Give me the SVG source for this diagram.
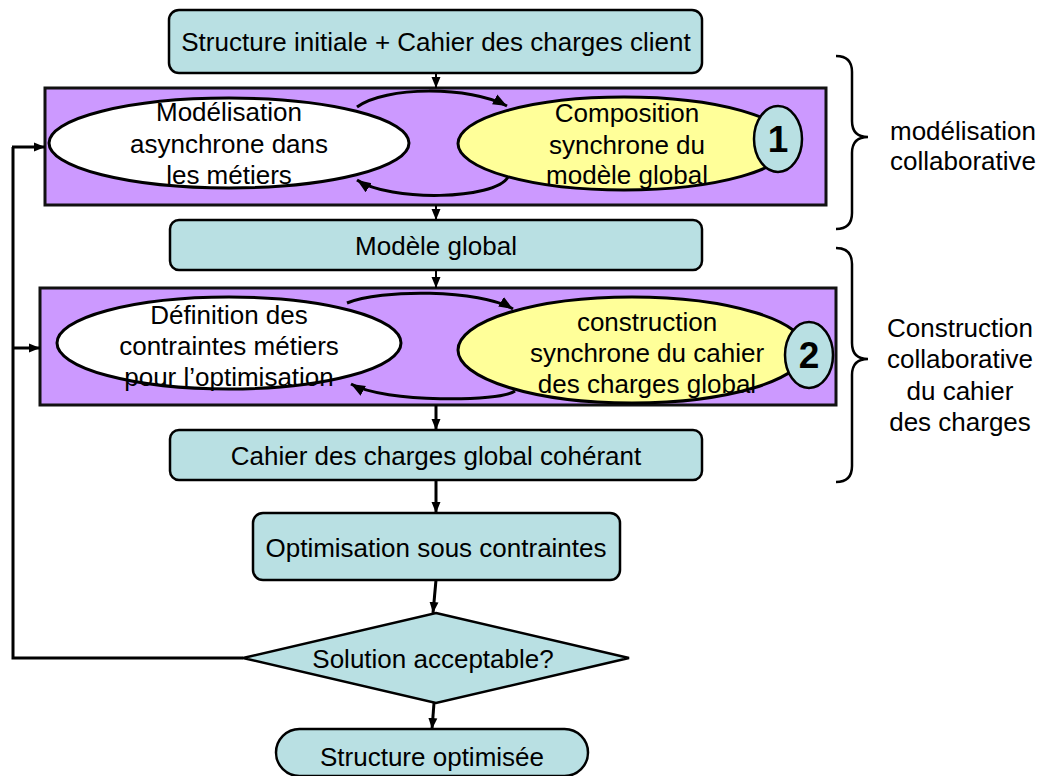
<svg xmlns="http://www.w3.org/2000/svg" width="1044" height="776" viewBox="0 0 1044 776">
<defs>
<marker id="ah" markerUnits="userSpaceOnUse" markerWidth="12" markerHeight="12" viewBox="0 0 12 12" refX="11" refY="6" orient="auto">
<path d="M0,1.5 L11,6 L0,10.5 Z" fill="#000"/>
</marker>
<marker id="ah2" markerUnits="userSpaceOnUse" markerWidth="16" markerHeight="14" viewBox="0 0 16 14" refX="14" refY="7" orient="auto">
<path d="M0,1.5 L14,7 L0,12.5 Z" fill="#000"/>
</marker>
<style>
.t{font-family:"Liberation Sans",Arial,sans-serif;font-size:26px;fill:#000;text-anchor:middle}
.n{font-family:"Liberation Sans",Arial,sans-serif;font-size:37px;font-weight:bold;fill:#000;text-anchor:middle}
.box{fill:#B9E0E3;stroke:#000;stroke-width:2.5}
.grp{fill:#CC99FF;stroke:#111;stroke-width:3}
.wht{fill:#fff;stroke:#000;stroke-width:3}
.yel{fill:#FFFF99;stroke:#000;stroke-width:3}
.c{fill:none;stroke:#000;stroke-width:2;marker-end:url(#ah)}
.ct{fill:none;stroke:#000;stroke-width:3;marker-end:url(#ah)}
.lp{fill:none;stroke:#000;stroke-width:3;marker-end:url(#ah2)}
.br{fill:none;stroke:#000;stroke-width:2.5}
</style>
</defs>
<rect width="1044" height="776" fill="#fff"/>

<g id="group1">
<rect class="grp" x="45" y="88" width="781" height="117"/>
</g>
<g id="group2">
<rect class="grp" x="40" y="288" width="796" height="117"/>
</g>

<g id="connectors">
<line class="c" x1="436" y1="73" x2="436" y2="88"/>
<line class="c" x1="436" y1="205" x2="436" y2="220"/>
<line class="c" x1="436" y1="270" x2="436" y2="288"/>
<line class="ct" x1="436" y1="405" x2="436" y2="430"/>
<line class="ct" x1="436" y1="480" x2="436" y2="513"/>
<line class="ct" x1="436" y1="580" x2="433" y2="613"/>
<line class="ct" x1="434" y1="703" x2="432" y2="729"/>
<path class="lp" d="M357 107 C385 86 470 86 507 106"/>
<path class="lp" d="M508 177 C495 200 390 202 357 180"/>
<path class="lp" d="M347 303 C380 289 480 289 513 309"/>
<path class="lp" d="M515 391 C500 402 385 403 351 384"/>
<path d="M243 658 L13 658 L13 147" fill="none" stroke="#000" stroke-width="3"/>
<line class="ct" x1="12" y1="147" x2="45" y2="147"/>
<line class="ct" x1="12" y1="348" x2="40" y2="348"/>
</g>

<g id="start">
<rect class="box" x="169" y="10" width="533" height="63" rx="10"/>
<text class="t" x="436" y="51">Structure initiale + Cahier des charges client</text>
</g>

<g id="modelisation-async">
<ellipse class="wht" cx="229" cy="143" rx="180" ry="45"/>
<text class="t" x="229" y="121">Modélisation</text>
<text class="t" x="229" y="153">asynchrone dans</text>
<text class="t" x="229" y="184">les métiers</text>
</g>

<g id="composition-sync">
<ellipse class="yel" cx="624" cy="143.5" rx="166" ry="46.5"/>
<text class="t" x="627" y="122">Composition</text>
<text class="t" x="627" y="154">synchrone du</text>
<text class="t" x="627" y="184">modèle global</text>
</g>
<g id="badge1">
<ellipse class="box" cx="778" cy="139" rx="24" ry="33" stroke-width="3"/>
<text class="n" x="778" y="152">1</text>
</g>

<g id="modele-global">
<rect class="box" x="170" y="220" width="532" height="50" rx="9"/>
<text class="t" x="436" y="255">Modèle global</text>
</g>

<g id="definition-contraintes">
<ellipse class="wht" cx="229" cy="343" rx="172" ry="46"/>
<text class="t" x="229" y="324">Définition des</text>
<text class="t" x="229" y="355">contraintes métiers</text>
<text class="t" x="229" y="386">pour l’optimisation</text>
</g>

<g id="construction-sync">
<ellipse class="yel" cx="632" cy="350" rx="174" ry="53"/>
<text class="t" x="647" y="331">construction</text>
<text class="t" x="647" y="362">synchrone du cahier</text>
<text class="t" x="647" y="393">des charges global</text>
</g>
<g id="badge2">
<ellipse class="box" cx="809" cy="355" rx="24" ry="33" stroke-width="3"/>
<text class="n" x="809" y="368">2</text>
</g>

<g id="cahier-global">
<rect class="box" x="170" y="430" width="532" height="50" rx="9"/>
<text class="t" x="436" y="465">Cahier des charges global cohérant</text>
</g>

<g id="optimisation">
<rect class="box" x="253" y="513" width="367" height="67" rx="10"/>
<text class="t" x="436" y="557">Optimisation sous contraintes</text>
</g>

<g id="decision">
<polygon class="box" points="436,613 629,658 436,703 243,658"/>
<text class="t" x="433" y="668">Solution acceptable?</text>
</g>

<g id="end">
<rect class="box" x="276" y="729" width="312" height="47" rx="23.5"/>
<text class="t" x="432" y="766">Structure optimisée</text>
</g>

<g id="brace1">
<path class="br" d="M836 56 Q852 56 852 72 L852 121 Q852 137 868 137 Q852 137 852 153 L852 213 Q852 229 836 229"/>
<text class="t" x="963" y="140">modélisation</text>
<text class="t" x="963" y="170">collaborative</text>
</g>

<g id="brace2">
<path class="br" d="M836 248 Q852 248 852 264 L852 343 Q852 359 868 359 Q852 359 852 375 L852 466 Q852 482 836 482"/>
<text class="t" x="960" y="337">Construction</text>
<text class="t" x="960" y="368">collaborative</text>
<text class="t" x="960" y="400">du cahier</text>
<text class="t" x="960" y="431">des charges</text>
</g>
</svg>
